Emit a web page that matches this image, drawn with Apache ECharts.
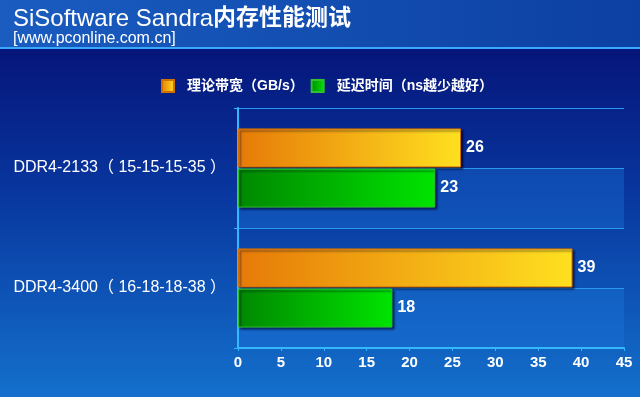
<!DOCTYPE html>
<html>
<head>
<meta charset="utf-8">
<script src="https://cdn.jsdelivr.net/npm/echarts@6/dist/echarts.min.js"></script>
<style>
  html, body { margin: 0; padding: 0; }
  #chart { width: 640px; height: 397px; }
</style>
</head>
<body>
<div id="chart"></div>
<script>
const categories = ["DDR4-2133（ 15-15-15-35 ）", "DDR4-3400（ 16-18-18-38 ）"];
const bandwidth = [26, 39];
const latency = [23, 18];
const seriesNames = ["理论带宽（GB/s）", "延迟时间（ns越少越好）"];
const bands = ["a", "b", "c", "d"];

const font = "Arial, 'Liberation Sans', 'Noto Sans CJK SC', sans-serif";

const grad = (a, b) => new echarts.graphic.LinearGradient(0, 0, 1, 0, [
  { offset: 0, color: a }, { offset: 1, color: b }
]);

const chart = echarts.init(document.getElementById("chart"));
chart.setOption({
  animation: false,
  backgroundColor: new echarts.graphic.LinearGradient(0, 0, 0, 1, [
    { offset: 0, color: "#050a6e" },
    { offset: 0.5, color: "#0838a0" },
    { offset: 1, color: "#1470cc" }
  ]),
  graphic: [
    {
      type: "rect", left: 0, top: 0, z: -1,
      shape: { width: 640, height: 48 },
      style: {
        fill: new echarts.graphic.LinearGradient(0, 0, 1, 0, [
          { offset: 0, color: "#1a5cc0" },
          { offset: 1, color: "#0c40a2" }
        ])
      }
    },
    {
      type: "rect", left: 0, top: 47, z: -1,
      shape: { width: 640, height: 2 },
      style: { fill: "#3aa8ff" }
    }
  ],
  title: {
    text: "{a|SiSoftware Sandra}{b|内存性能测试}",
    subtext: "[www.pconline.com.cn]",
    left: 8, top: 2, itemGap: 0,
    textStyle: {
      color: "#ffffff", fontSize: 24, fontFamily: font,
      rich: {
        a: { color: "#ffffff", fontSize: 24, fontWeight: "normal", fontFamily: font },
        b: { color: "#ffffff", fontSize: 23, fontWeight: "bold", fontFamily: font }
      }
    },
    subtextStyle: { color: "#ffffff", fontSize: 16, fontFamily: font }
  },
  legend: {
    data: seriesNames,
    top: 74, left: 156,
    itemWidth: 12, itemHeight: 12, itemGap: 7,
    icon: "rect",
    textStyle: { color: "#ffffff", fontSize: 14, fontWeight: "bold", fontFamily: font, padding: [0, 0, 0, 8] }
  },
  grid: { left: 238, right: 16, top: 108, bottom: 49 },
  xAxis: {
    type: "value", min: 0, max: 45, interval: 5,
    axisLine: { show: true, lineStyle: { color: "#33b8ff", width: 2 } },
    axisTick: { show: true, length: 3, lineStyle: { color: "#33b8ff" } },
    splitLine: { show: false },
    axisLabel: { color: "#ffffff", fontSize: 15, fontWeight: "bold", fontFamily: font, margin: 7 }
  },
  yAxis: [
    {
      type: "category", data: categories, inverse: true,
      axisLine: { show: true, lineStyle: { color: "#33b8ff", width: 2 } },
      axisTick: { show: true, length: 4, lineStyle: { color: "#33b8ff" } },
      axisLabel: { color: "#ffffff", fontSize: 16, fontFamily: font, margin: 12 },
      splitLine: { show: false }
    },
    {
      type: "category", data: bands, position: "left",
      axisLine: { show: false }, axisTick: { show: false }, axisLabel: { show: false },
      splitLine: { show: true, lineStyle: { color: "#2a98f0", width: 1 } },
      splitArea: { show: true, areaStyle: { color: ["rgba(30,120,220,0.35)", "rgba(0,0,0,0)"] } }
    }
  ],
  series: [
    {
      name: seriesNames[0], type: "bar", data: bandwidth,
      barWidth: 39, barGap: "3%",
      itemStyle: {
        color: grad("#e67a08", "#ffe020"), borderColor: "#d07000", borderWidth: 1,
        shadowColor: "rgba(0,0,40,0.6)", shadowOffsetX: 2, shadowOffsetY: 2, shadowBlur: 2
      },
      label: { show: true, position: "right", color: "#ffffff", fontSize: 16, fontWeight: "bold", fontFamily: font, distance: 5 }
    },
    {
      name: seriesNames[1], type: "bar", data: latency,
      barWidth: 39,
      itemStyle: {
        color: grad("#008800", "#00e400"), borderColor: "#30c030", borderWidth: 1,
        shadowColor: "rgba(0,0,40,0.6)", shadowOffsetX: 2, shadowOffsetY: 2, shadowBlur: 2
      },
      label: { show: true, position: "right", color: "#ffffff", fontSize: 16, fontWeight: "bold", fontFamily: font, distance: 5 }
    }
  ]
});
</script>
</body>
</html>
